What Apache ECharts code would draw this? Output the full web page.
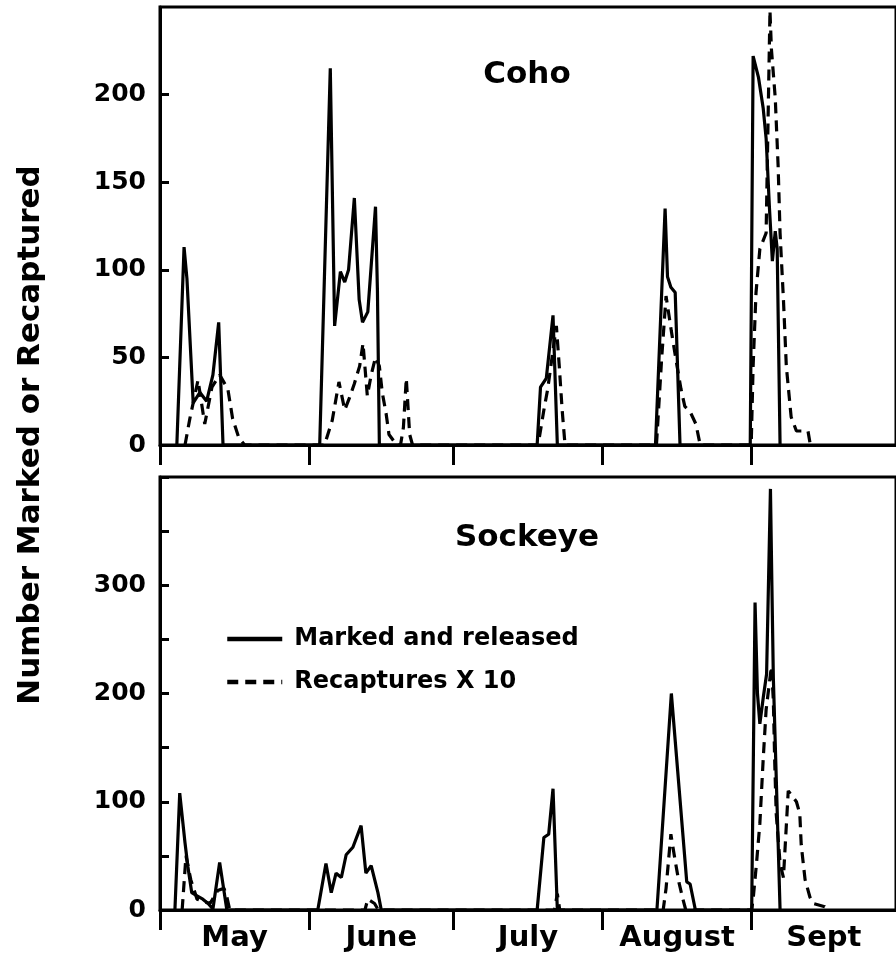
<!DOCTYPE html>
<html>
<head>
<meta charset="utf-8">
<script src="https://cdn.jsdelivr.net/npm/echarts@6/dist/echarts.min.js"></script>
<style>
    html, body { margin: 0; padding: 0; background: #fff; }
    #chart { width: 896px; height: 958px; }
</style>
</head>
<body>
<div id="chart"></div>
<script>
    // days counted from May 1
    const monthTicks = [0, 31, 61, 92, 123];
    const monthMid = [15.5, 46, 76.5, 107.5, 138];
    const monthNames = ['May', 'June', 'July', 'August', 'Sept'];

    // Coho: [day, number]
    const cohoMarked = [
        [3.5, 0], [5, 113], [5.6, 95], [6.9, 24], [8.3, 30], [9.7, 25], [11, 40], [12.2, 70], [13.1, 0],
        [33.2, 0], [35.4, 215], [36.3, 68], [37.5, 99], [38.4, 93], [39.2, 100], [40.4, 141], [41.4, 83],
        [42.1, 70], [43.2, 76], [44.8, 136], [45.2, 88], [45.6, 0],
        [78.4, 0], [79.1, 33], [80.3, 38], [81.7, 74], [82.6, 0],
        [103.0, 0], [105.0, 135], [105.5, 96], [106.2, 90], [107.1, 87], [108.1, 0],
        [122.7, 0], [123.3, 222], [124.4, 210], [125.4, 192], [126.0, 175], [126.7, 135], [127.3, 105],
        [127.9, 122], [128.3, 112], [128.9, 0]
    ];
    const cohoRecap = [
        [5.2, 0], [6.2, 15], [7.9, 37], [9.3, 12], [10.8, 33], [12.4, 40], [14.1, 32], [15.1, 15], [16.4, 4], [17.6, 0],
        [34.2, 0], [35.8, 14], [37.2, 36], [38.4, 20], [39.4, 27], [40.4, 35], [41.5, 45], [42.2, 58], [43.1, 28],
        [43.9, 40], [44.8, 50], [45.6, 45], [46.2, 30], [47.0, 18], [47.6, 6], [49.2, 0], [50.0, 0], [50.6, 10],
        [51.2, 38], [51.9, 6], [52.5, 0],
        [78.6, 0], [79.8, 20], [80.6, 32], [81.5, 50], [82.4, 68], [83.0, 45], [83.6, 20], [84.2, 0],
        [103.2, 0], [104.3, 50], [105.2, 85], [106.3, 65], [107.3, 48], [108.3, 32], [109.1, 22], [110.2, 19],
        [111.4, 12], [112.3, 0],
        [122.9, 0], [123.3, 45], [123.9, 87], [124.7, 112], [126.0, 121], [126.8, 248], [127.1, 226], [127.9, 198],
        [128.5, 159], [128.9, 121], [129.6, 83], [130.2, 45], [131.2, 16], [132.3, 8], [134.7, 8], [135.2, 0]
    ];

    // Sockeye: [day, number]
    const sockeyeMarked = [
        [3.1, 0], [4.1, 108], [5.2, 62], [5.8, 40], [6.6, 16], [7.7, 13], [8.9, 10], [10.0, 6], [11.0, 1], [12.4, 44], [13.9, 0],
        [32.8, 0], [34.5, 43], [35.6, 16], [36.6, 34], [37.7, 30], [38.7, 51], [40.1, 58], [41.8, 78], [42.8, 34],
        [43.9, 41], [45.3, 16], [46.0, 0],
        [78.4, 0], [79.8, 67], [80.8, 70], [81.7, 112], [82.6, 0],
        [103.3, 0], [106.3, 200], [109.5, 26], [110.2, 24], [111.3, 0],
        [123.0, 0], [123.7, 284], [124.2, 200], [124.7, 172], [125.4, 196], [126.1, 218], [126.9, 389], [127.2, 300],
        [127.5, 215], [128.9, 0]
    ];
    const sockeyeRecap = [
        [4.6, 0], [5.4, 50], [6.4, 28], [7.7, 10], [8.9, 8], [10.4, 6], [12.0, 18], [13.3, 20], [13.9, 12], [14.5, 0],
        [42.6, 0], [43.2, 10], [44.6, 6], [45.4, 0],
        [82.0, 0], [82.6, 15], [83.1, 0],
        [104.6, 0], [105.2, 20], [106.2, 70], [107.0, 48], [107.9, 25], [108.7, 10], [109.3, 0],
        [123.0, 0], [123.3, 10], [124.0, 43], [124.7, 80], [125.4, 140], [126.0, 185], [127.1, 225], [127.5, 194],
        [127.8, 135], [128.1, 89], [128.9, 43], [129.6, 30], [130.6, 110], [132.3, 100], [133.0, 89], [133.3, 60],
        [134.1, 28], [135.1, 12], [135.8, 6], [138.2, 3], [138.9, 0]
    ];

    const font = 'DejaVu Sans';

    function xAxisFor(idx, withLabels) {
        return {
            type: 'value',
            gridIndex: idx,
            min: 0,
            max: 153,
            axisLine: {lineStyle: {color: '#000', width: 3}},
            axisTick: {
                customValues: monthTicks,
                length: 20,
                lineStyle: {color: '#000', width: 3}
            },
            axisLabel: {
                show: withLabels,
                customValues: monthMid,
                margin: 14,
                color: '#000',
                fontFamily: font,
                fontWeight: 'bold',
                fontSize: 29,
                formatter: function (v) {
                    let i = monthMid.indexOf(v);
                    return i >= 0 ? monthNames[i] : '';
                }
            },
            splitLine: {show: false}
        };
    }

    function yAxisFor(idx, max, interval, minor) {
        return {
            type: 'value',
            gridIndex: idx,
            min: 0,
            max: max,
            interval: interval,
            axisLine: {show: true, lineStyle: {color: '#000', width: 3}},
            axisTick: {inside: true, length: 9, lineStyle: {color: '#000', width: 3}},
            minorTick: {show: minor, splitNumber: 2, length: 9, lineStyle: {color: '#000', width: 3}},
            axisLabel: {
                showMaxLabel: false,
                margin: 14,
                color: '#000',
                fontFamily: font,
                fontWeight: 'bold',
                fontSize: 25
            },
            splitLine: {show: false},
            minorSplitLine: {show: false}
        };
    }

    function line(name, data, idx, dashed) {
        return {
            type: 'line',
            name: name,
            xAxisIndex: idx,
            yAxisIndex: idx,
            data: data,
            symbol: 'none',
            z: dashed ? 3 : 2,
            lineStyle: {color: '#000', width: 3.2, type: dashed ? [11, 7] : 'solid'},
            itemStyle: {color: '#000'}
        };
    }

    let myChart = echarts.init(document.getElementById('chart'));
    let option = {
        animation: false,
        backgroundColor: '#fff',
        grid: [
            {left: 160, right: -2, top: 7, height: 438, show: true, borderColor: '#000', borderWidth: 3},
            {left: 160, right: -2, top: 477, height: 433, show: true, borderColor: '#000', borderWidth: 3}
        ],
        legend: {
            orient: 'vertical',
            left: 220,
            top: 622,
            itemWidth: 55,
            itemHeight: 14,
            itemGap: 19,
            data: ['Marked and released', 'Recaptures X 10'],
            itemStyle: {opacity: 0},
            lineStyle: {width: 4.5},
            textStyle: {color: '#000', fontFamily: font, fontWeight: 'bold', fontSize: 24, padding: [0, 0, 0, 7]}
        },
        xAxis: [xAxisFor(0, false), xAxisFor(1, true)],
        yAxis: [yAxisFor(0, 250, 50, false), yAxisFor(1, 400, 100, true)],
        graphic: [
            {
                type: 'text', x: 31, y: 435, rotation: Math.PI / 2,
                style: {text: 'Number Marked or Recaptured', font: 'bold 31px "DejaVu Sans"', fill: '#000', align: 'center', verticalAlign: 'middle'}
            },
            {
                type: 'text', x: 527, y: 75,
                style: {text: 'Coho', font: 'bold 31px "DejaVu Sans"', fill: '#000', align: 'center', verticalAlign: 'middle'}
            },
            {
                type: 'text', x: 527, y: 538,
                style: {text: 'Sockeye', font: 'bold 31px "DejaVu Sans"', fill: '#000', align: 'center', verticalAlign: 'middle'}
            }
        ],
        series: [
            line('Marked and released', cohoMarked, 0, false),
            line('Recaptures X 10', cohoRecap, 0, true),
            line('Marked and released', sockeyeMarked, 1, false),
            line('Recaptures X 10', sockeyeRecap, 1, true)
        ]
    };
    myChart.setOption(option);
</script>
</body>
</html>
